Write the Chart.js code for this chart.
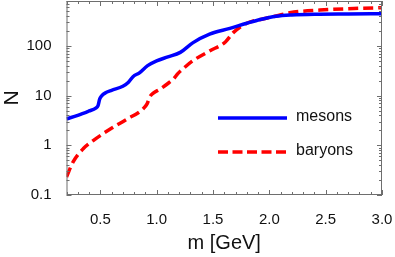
<!DOCTYPE html>
<html>
<head>
<meta charset="utf-8">
<script src="https://cdn.jsdelivr.net/npm/chart.js@4/dist/chart.umd.min.js"></script>
<style>
    html, body { margin: 0; padding: 0; background: #fff; }
    #wrap { width: 395px; height: 257px; }
</style>
</head>
<body>
<div id="wrap"><canvas id="hadronChart"></canvas></div>
<script>
// values
const mesonMass = [0.2, 0.3, 0.4, 0.46, 0.48, 0.495, 0.51, 0.55, 0.6, 0.7, 0.75, 0.79, 0.85, 0.92, 1.0, 1.1, 1.21, 1.32, 1.47, 1.65, 1.8, 1.92, 2.06, 2.2, 2.4, 2.7, 3.0];
const mesonN = [3.4, 4.0, 4.9, 5.6, 6.3, 8.6, 9.8, 11.5, 12.8, 15.4, 18.6, 24, 29, 40, 50, 60, 74, 115, 172, 225, 285, 340, 395, 420, 435, 440, 443];

const baryonMass = [0.2, 0.26, 0.35, 0.44, 0.585, 0.73, 0.88, 0.915, 0.94, 0.97, 1.03, 1.1, 1.15, 1.19, 1.23, 1.32, 1.47, 1.61, 1.68, 1.8, 1.95, 2.08, 2.18, 2.45, 2.75, 3.0];
const baryonN = [0.23, 0.47, 0.86, 1.26, 2.1, 3.3, 5.4, 6.8, 9.5, 11.2, 13.5, 17.5, 21.6, 28, 34, 50, 79, 120, 185, 285, 352, 410, 465, 525, 565, 585];

const xTickLabels = [0.5, 1.0, 1.5, 2.0, 2.5, 3.0];
const yTickLabels = [0.1, 1, 10, 100];

const frameColor = '#6e6e6e';

function toPoints(xs, ys) {
    return xs.map((x, i) => ({ x: x, y: ys[i] }));
}

// inward ticks on all four sides, Mathematica style
const frameTicks = {
    id: 'frameTicks',
    afterDatasetsDraw(chart) {
        const ctx = chart.ctx;
        const a = chart.chartArea;
        const xs = chart.scales.x;
        const ys = chart.scales.y;
        ctx.save();
        ctx.strokeStyle = frameColor;
        ctx.lineWidth = 1;
        ctx.strokeRect(a.left + 0.5, a.top + 0.5, a.right - a.left - 1, a.bottom - a.top - 1);
        ctx.beginPath();
        for (let k = 2; k <= 30; k++) {
            const v = k / 10;
            const px = Math.round(xs.getPixelForValue(v)) + 0.5;
            const len = (k % 5 === 0) ? 5 : 3;
            ctx.moveTo(px, a.bottom); ctx.lineTo(px, a.bottom - len);
            ctx.moveTo(px, a.top); ctx.lineTo(px, a.top + len);
        }
        for (let d = 0.1; d < 1000; d *= 10) {
            for (let k = 1; k <= 9; k++) {
                const v = d * k;
                if (v > ys.max) break;
                const py = Math.round(ys.getPixelForValue(v)) + 0.5;
                const len = (k === 1) ? 5 : 3;
                ctx.moveTo(a.left, py); ctx.lineTo(a.left + len, py);
                ctx.moveTo(a.right, py); ctx.lineTo(a.right - len, py);
            }
        }
        ctx.stroke();
        ctx.restore();
    }
};

const insideLegend = {
    id: 'insideLegend',
    afterDraw(chart) {
        const ctx = chart.ctx;
        const rows = [
            { text: 'mesons', color: '#0000ff', dash: [], y: 118 },
            { text: 'baryons', color: '#ff0000', dash: [10, 4.5], y: 152 }
        ];
        ctx.save();
        rows.forEach(r => {
            ctx.strokeStyle = r.color;
            ctx.lineWidth = 3.5;
            ctx.setLineDash(r.dash);
            ctx.beginPath();
            ctx.moveTo(218, r.y);
            ctx.lineTo(287, r.y);
            ctx.stroke();
            ctx.setLineDash([]);
            ctx.fillStyle = '#111';
            ctx.font = '16px "Liberation Sans"';
            ctx.textBaseline = 'middle';
            ctx.fillText(r.text, 296, r.y - 1);
        });
        ctx.restore();
    }
};

Chart.defaults.font.family = '"Liberation Sans", Arial, sans-serif';
Chart.defaults.color = '#111';

const ctx = document.getElementById('hadronChart').getContext('2d');
const chart = new Chart(ctx, {
    type: 'line',
    data: {
        datasets: [
            {
                label: 'mesons',
                data: toPoints(mesonMass, mesonN),
                borderColor: '#0000ff',
                borderWidth: 3.5,
                pointRadius: 0,
                cubicInterpolationMode: 'monotone',
                fill: false
            },
            {
                label: 'baryons',
                data: toPoints(baryonMass, baryonN),
                borderColor: '#ff0000',
                borderWidth: 3.5,
                borderDash: [10, 5],
                pointRadius: 0,
                cubicInterpolationMode: 'monotone',
                fill: false
            }
        ]
    },
    options: {
        responsive: true,
        maintainAspectRatio: false,
        animation: false,
        events: [],
        layout: { padding: { top: 1, right: 13, left: 0, bottom: 0 } },
        scales: {
            x: {
                type: 'linear',
                min: 0.2,
                max: 3.0,
                grid: { display: false },
                border: { display: false },
                afterBuildTicks: (scale) => {
                    scale.ticks = xTickLabels.map(v => ({ value: v }));
                },
                afterFit: (scale) => {
                    scale.height = 62;
                    scale.paddingLeft = 0;
                    scale.paddingRight = 0;
                },
                ticks: {
                    autoSkip: false,
                    maxRotation: 0,
                    padding: 8,
                    font: { size: 15 },
                    callback: (v) => Number(v).toFixed(1)
                },
                title: {
                    display: true,
                    text: 'm [GeV]',
                    font: { size: 20 },
                    padding: 2
                }
            },
            y: {
                type: 'logarithmic',
                min: 0.1,
                max: 800,
                grid: { display: false },
                border: { display: false },
                afterBuildTicks: (scale) => {
                    scale.ticks = yTickLabels.map(v => ({ value: v }));
                },
                afterFit: (scale) => {
                    scale.width = 66.5;
                    scale.paddingTop = 0;
                    scale.paddingBottom = 0;
                },
                ticks: {
                    autoSkip: false,
                    padding: 7,
                    font: { size: 15 },
                    callback: (v) => String(v)
                },
                title: {
                    display: true,
                    text: 'N',
                    font: { size: 21 },
                    padding: 0
                }
            }
        },
        plugins: {
            legend: { display: false },
            tooltip: { enabled: false }
        }
    },
    plugins: [frameTicks, insideLegend]
});
</script>
</body>
</html>
